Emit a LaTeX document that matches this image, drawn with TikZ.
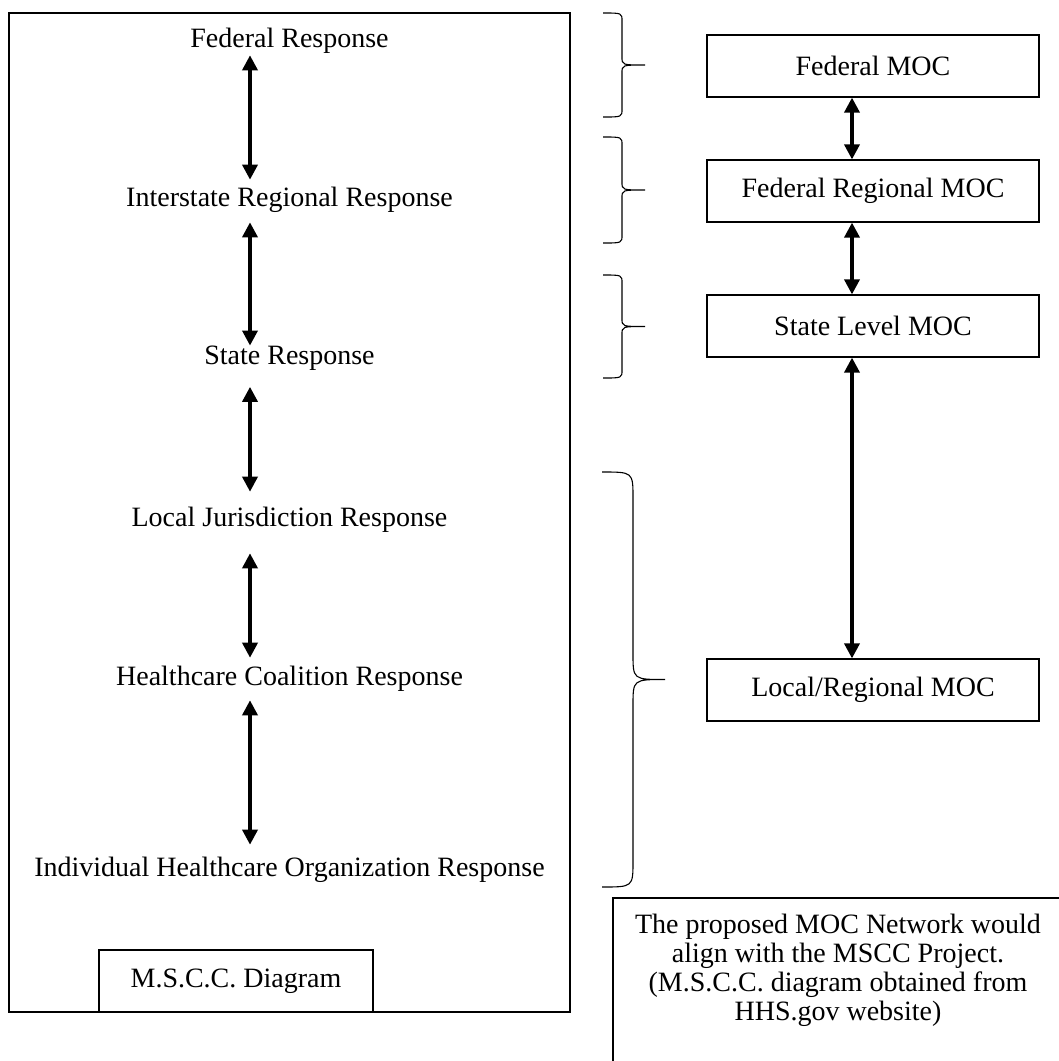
\documentclass[tikz,border=0pt]{standalone}
\usepackage{fontspec}
\setmainfont{Liberation Serif}
\usetikzlibrary{arrows.meta}

% level brace: left x, stem x, tip x, top y, bottom y, curve height
\newcommand{\levelbrace}[6]{%
  \pgfmathsetmacro{\tipy}{(#4+#5)/2}
  \draw[bracel] (#1,#4) .. controls (#2,#4) .. (#2,#4+#6) -- (#2,\tipy-#6)
    .. controls (#2,\tipy) .. (#3,\tipy) .. controls (#2,\tipy) .. (#2,\tipy+#6)
    -- (#2,#5-#6) .. controls (#2,#5) .. (#1,#5);
}

\begin{document}
\begin{tikzpicture}[x=1pt,y=-1pt,
  txt/.style={font=\fontsize{28}{29}\selectfont, inner sep=0pt},
  mocbox/.style={draw, line width=1.2pt, minimum width=332pt, minimum height=62pt, inner sep=0pt, font=\fontsize{28}{29}\selectfont},
  biarrow/.style={line width=3.5pt, {Triangle[width=15pt,length=15pt]}-{Triangle[width=15pt,length=15pt]}},
  bracel/.style={line width=1.1pt}]
\useasboundingbox (0,0) rectangle (1059,1061);
\clip (0,0) rectangle (1059,1061);
\pgfmathsetmacro{\lx}{289.5} % centre of the response column
\pgfmathsetmacro{\rx}{873}   % centre of the MOC column
% Response column
\draw[line width=1.2pt] (9,13) rectangle (570,1012);
\foreach \name/\yy/\lab in {fed/41/Federal Response, inter/200/Interstate Regional Response,
    state/358/State Response, local/520/Local Jurisdiction Response,
    health/679/Healthcare Coalition Response, indiv/870/Individual Healthcare Organization Response} {
    \node[txt] (\name) at (\lx,\yy) {\lab};
}
\foreach \a/\b/\s/\t in {fed/inter/1.4/7.4, inter/state/9.4/0, state/local/16.4/15.4,
    local/health/20.4/8.4, health/indiv/8.4/12.4} {
    \draw[biarrow, shorten <=\s pt, shorten >=\t pt] ([xshift=-39.5pt]\a.south) -- ([xshift=-39.5pt]\b.north);
}
\node[mocbox, minimum width=274pt] (mscc) at (236,981) {M.S.C.C. Diagram};
% MOC column
\foreach \name/\yy/\lab in {fmoc/66/Federal MOC, frmoc/191/Federal Regional MOC,
    smoc/326/State Level MOC, lmoc/690/{Local/Regional MOC}} {
    \node[mocbox] (\name) at (\rx,\yy) {\lab};
}
\foreach \a/\b in {fmoc/frmoc, frmoc/smoc, smoc/lmoc} {
    \draw[biarrow] ([xshift=-21pt]\a.south) -- ([xshift=-21pt]\b.north);
}
% Braces
\levelbrace{603}{622}{645}{13}{117}{8}
\levelbrace{603}{622}{645}{137}{243}{8}
\levelbrace{603}{622}{645}{275}{378}{8}
\levelbrace{602}{633}{665}{472}{887}{26}
% Note
\draw[line width=1.2pt] (613,898) rectangle (1075,1080);
\node[txt, align=center, anchor=north] (note) at (838,914)
  {The proposed MOC Network would\\align with the MSCC Project.\\(M.S.C.C. diagram obtained from\\HHS.gov website)};
\end{tikzpicture}
\end{document}
